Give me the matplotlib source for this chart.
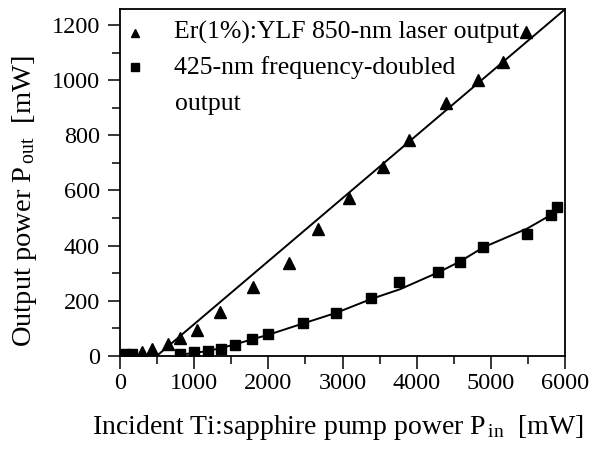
import matplotlib
matplotlib.use("Agg")
import matplotlib.pyplot as plt
from matplotlib.ticker import MultipleLocator

plt.rcParams['font.family'] = ['Liberation Serif', 'DejaVu Serif']
plt.rcParams['mathtext.fontset'] = 'custom'
plt.rcParams['mathtext.rm'] = 'Liberation Serif'
plt.rcParams['mathtext.it'] = 'Liberation Serif:italic'
plt.rcParams['mathtext.bf'] = 'Liberation Serif:bold'

# ---- data ----
er_x = [292, 427, 652, 809, 1034, 1348, 1789, 2279, 2674, 3092,
        3551, 3901, 4396, 4831, 5169, 5470]
er_y = [16, 24, 42, 66, 94, 161, 249, 338, 462, 572,
        684, 783, 916, 1001, 1067, 1176]

shg_x = [70, 160, 809, 1002, 1182, 1357, 1551, 1775, 2000, 2463, 2912, 3380,
         3766, 4292, 4584, 4899, 5492, 5807, 5897]
shg_y = [6, 6, 8, 14, 19, 24, 40, 62, 79, 121, 157, 209,
         269, 303, 342, 396, 442, 511, 539]

er_fit_x = [494, 6000]
er_fit_y = [0, 1257]

shg_fit_x = [809, 1000, 1180, 1350, 1550, 1775, 2000, 2470, 2920, 3390,
             3775, 4290, 4580, 4900, 5490, 5807, 5897]
shg_fit_y = [5, 11, 18, 28, 42, 60, 77, 118, 157, 207,
             242, 303, 342, 394, 462, 511, 540]

legend_labels = ["Er(1%):YLF 850-nm laser output",
                 "425-nm frequency-doubled",
                 "output"]
x_label = "Incident Ti:sapphire pump power P$_{\\,\\rm in}$  [mW]"
y_label = "Output power P$_{\\,\\rm out}$  [mW]"

# ---- figure ----
fig = plt.figure(figsize=(5.91, 4.51), dpi=100)
ax = fig.add_axes([120/591, 95/451, 445/591, 347/451])

ax.plot(er_fit_x, er_fit_y, color='black', lw=1.4, zorder=2)
ax.plot(shg_fit_x, shg_fit_y, color='black', lw=1.4, zorder=2)
ax.plot(er_x, er_y, linestyle='none', marker='^', ms=8.5, color='black', zorder=3)
ax.plot(shg_x, shg_y, linestyle='none', marker='s', ms=7, color='black', zorder=3)

ax.set_xlim(0, 6000)
ax.set_ylim(0, 1258)
ax.xaxis.set_major_locator(MultipleLocator(1000))
ax.xaxis.set_minor_locator(MultipleLocator(500))
ax.yaxis.set_major_locator(MultipleLocator(200))
ax.yaxis.set_minor_locator(MultipleLocator(100))
ax.tick_params(which='major', direction='out', length=9, width=1.1,
               labelsize=17.5)
ax.tick_params(axis='y', which='major', pad=5.5)
ax.tick_params(axis='x', which='major', pad=3.5)
ax.tick_params(which='minor', direction='out', length=6, width=1.1)
for s in ax.spines.values():
    s.set_linewidth(1.3)

# legend (manual)
ax.plot([0.034], [0.932], marker='^', ms=6, color='black',
        transform=ax.transAxes, clip_on=False)
ax.plot([0.034], [0.832], marker='s', ms=5.5, color='black',
        transform=ax.transAxes, clip_on=False)
ax.text(54/445, 0.932, legend_labels[0], transform=ax.transAxes,
        fontsize=18.5, va='center', ha='left')
ax.text(54/445, 0.832, legend_labels[1], transform=ax.transAxes,
        fontsize=18.5, va='center', ha='left')
ax.text(55/445, 0.725, legend_labels[2], transform=ax.transAxes,
        fontsize=18.5, va='center', ha='left')

fig.text(338/591, 17/451, x_label, fontsize=20, ha='center', va='baseline')
fig.text(25/591, 250/451, y_label, fontsize=20.5, ha='center', va='center',
         rotation=90)

fig.savefig("out.png", dpi=100)
